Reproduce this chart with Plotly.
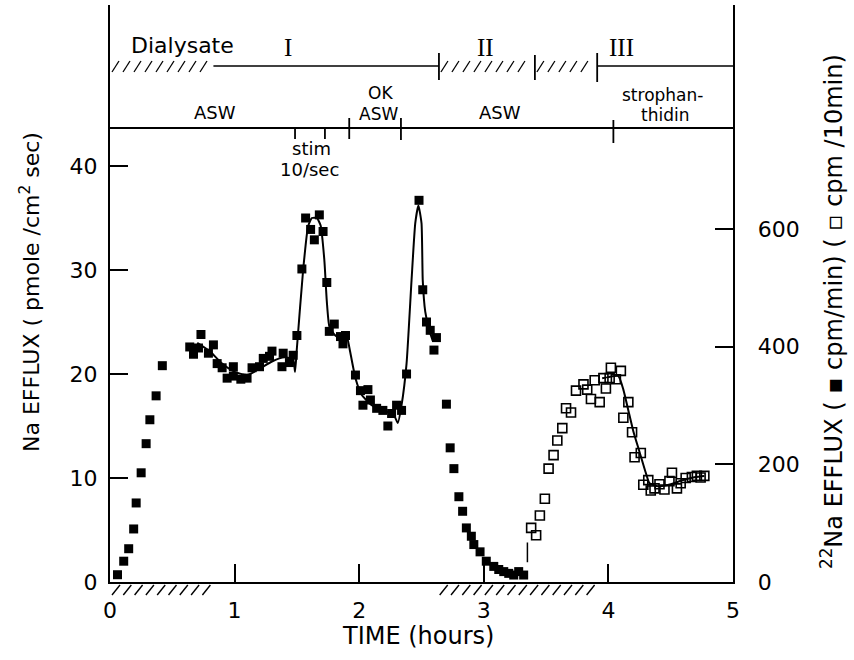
import plotly.graph_objects as go

# ---------------- data (hours, pmole/cm2 sec) ----------------
filled_t = [0.06, 0.11, 0.15, 0.19, 0.21, 0.25, 0.29, 0.32, 0.37, 0.42,
            0.64, 0.67, 0.71, 0.73, 0.79, 0.83, 0.86, 0.90, 0.94, 0.99, 0.99, 1.05, 1.10,
            1.14, 1.20, 1.23, 1.28, 1.30, 1.38, 1.39, 1.44, 1.47, 1.50, 1.54, 1.57, 1.61,
            1.64, 1.68, 1.71, 1.74, 1.76, 1.80, 1.85, 1.87, 1.89, 1.97, 2.01, 2.03, 2.07,
            2.09, 2.14, 2.19, 2.23, 2.26, 2.30, 2.34, 2.38, 2.48, 2.51, 2.54, 2.57, 2.60,
            2.62, 2.70, 2.73, 2.76, 2.80, 2.83, 2.86, 2.90, 2.92, 2.97, 3.02, 3.08, 3.12,
            3.16, 3.20, 3.24, 3.28, 3.32]
filled_y = [0.7, 2.0, 3.2, 5.1, 7.6, 10.5, 13.3, 15.6, 17.9, 20.8,
            22.6, 21.9, 22.5, 23.8, 22.0, 22.8, 21.0, 20.6, 19.6, 20.7, 19.8, 19.5, 19.6,
            20.6, 20.7, 21.5, 21.7, 22.2, 20.7, 22.0, 21.1, 21.8, 23.7, 30.1, 35.0, 33.9,
            32.9, 35.3, 33.7, 28.8, 24.1, 24.8, 23.6, 22.9, 23.7, 19.9, 18.4, 17.0, 18.5,
            17.5, 16.7, 16.5, 15.0, 16.2, 17.0, 16.5, 20.0, 36.7, 28.1, 25.0, 24.2, 22.3,
            23.5, 17.1, 12.9, 10.9, 8.2, 6.8, 5.2, 4.4, 3.6, 2.9, 2.0, 1.5, 1.2,
            1.0, 0.83, 0.67, 1.0, 0.67]

open_t = [3.38, 3.42, 3.45, 3.49, 3.52, 3.56, 3.59, 3.63, 3.66, 3.70, 3.74, 3.80,
          3.83, 3.86, 3.89, 3.93, 3.96, 3.98, 4.01, 4.02, 4.06, 4.10, 4.12, 4.16,
          4.19, 4.21, 4.26, 4.28, 4.32, 4.34, 4.37, 4.41, 4.45, 4.49, 4.51, 4.55,
          4.58, 4.62, 4.67, 4.71, 4.74, 4.77]
open_y = [5.2, 4.5, 6.4, 8.0, 10.9, 12.2, 13.6, 14.8, 16.7, 16.3, 18.4, 19.0,
          18.5, 17.6, 19.4, 17.3, 19.6, 18.6, 19.6, 20.6, 19.5, 20.3, 15.8, 17.3,
          14.4, 12.0, 12.4, 9.35, 9.8, 8.8, 9.0, 9.4, 8.9, 9.7, 10.5, 9.0,
          9.5, 10.0, 10.1, 10.2, 10.05, 10.2]

curve_a_t = [0.70, 0.80, 0.90, 1.00, 1.10, 1.20, 1.30, 1.40, 1.47, 1.485, 1.50, 1.55,
             1.59, 1.62, 1.66, 1.69, 1.72, 1.74, 1.76, 1.80, 1.86, 1.90, 1.92, 1.97,
             2.02, 2.10, 2.20, 2.28, 2.31, 2.34, 2.38, 2.42, 2.45, 2.475, 2.50, 2.51,
             2.53, 2.56, 2.59]
curve_a_y = [23.0, 22.2, 21.0, 20.2, 19.9, 20.5, 21.2, 21.6, 21.4, 20.2, 22.5, 30.0,
             34.2, 35.0, 35.0, 34.3, 31.0, 27.0, 24.6, 23.8, 23.3, 23.6, 22.6, 19.6,
             18.0, 17.0, 16.5, 16.0, 15.3, 17.0, 21.0, 29.0, 34.5, 36.2, 34.5, 29.0,
             26.0, 24.3, 23.2]

curve_b_t = [3.95, 4.00, 4.08, 4.12, 4.16, 4.20, 4.25, 4.30, 4.33, 4.40, 4.50,
             4.60, 4.70, 4.77]
curve_b_y = [19.6, 19.7, 19.8, 18.5, 16.5, 14.5, 12.5, 10.5, 9.5, 9.2, 9.4,
             9.8, 10.1, 10.2]

curve_c_t = [3.35, 3.35]
curve_c_y = [1.9, 3.8]

x_ticks = [0, 1, 2, 3, 4, 5]
left_ticks = [0, 10, 20, 30, 40]
right_ticks = [0, 200, 400, 600]

bottom_hatch = [(0.0, 0.83), (2.63, 3.90)]
dialysate_hatch = [(0.0, 0.83), (2.64, 3.41), (3.41, 3.91)]
dialysate_solid = [(0.83, 2.64), (3.91, 5.0)]
dialysate_marks = [(2.64, 53, 80), (3.41, 55, 80), (3.91, 53, 82)]
solution_marks = [(1.485, 128, 139), (1.725, 128, 139), (1.92, 118, 139),
                  (2.335, 118, 140), (4.04, 120, 143)]

# ---------------- layout geometry (pixels) ----------------
W, H = 854, 660
L, R, T, B = 110, 733, 5, 582
Y_TOP = (B - T) / 10.4          # left axis units at top of plot
Y2_TOP = (B - T) / 0.5883       # right axis units at top
BLACK = "black"
FONT = "DejaVu Sans"


def pxx(px):
    return (px - L) / (R - L)


def pxy(py):
    return (B - py) / (B - T)


def tpx(t):
    return L + t / 5.0 * (R - L)


fig = go.Figure()

fig.add_trace(go.Scatter(x=curve_a_t, y=curve_a_y, mode="lines",
                         line=dict(color=BLACK, width=2, shape="spline", smoothing=0.5),
                         hoverinfo="skip", showlegend=False))
fig.add_trace(go.Scatter(x=curve_b_t, y=curve_b_y, mode="lines",
                         line=dict(color=BLACK, width=2, shape="spline", smoothing=0.5),
                         hoverinfo="skip", showlegend=False))
fig.add_trace(go.Scatter(x=curve_c_t, y=curve_c_y, mode="lines",
                         line=dict(color=BLACK, width=1.5),
                         hoverinfo="skip", showlegend=False))
fig.add_trace(go.Scatter(x=filled_t, y=filled_y, mode="markers",
                         marker=dict(symbol="square", size=9, color=BLACK),
                         showlegend=False))
fig.add_trace(go.Scatter(x=open_t, y=open_y, mode="markers",
                         marker=dict(symbol="square-open", size=9, color=BLACK,
                                     line=dict(width=1.6, color=BLACK)),
                         showlegend=False))
# empty trace to activate right axis
fig.add_trace(go.Scatter(x=[None], y=[None], yaxis="y2", showlegend=False))

shapes = []


def seg(x0, y0, x1, y1, w=1.8):
    shapes.append(dict(type="line", xref="paper", yref="paper",
                       x0=pxx(x0), y0=pxy(y0), x1=pxx(x1), y1=pxy(y1),
                       line=dict(color=BLACK, width=w)))


# hatching below the time axis
for a, b in bottom_hatch:
    x = tpx(a) + 2
    while x + 8 <= tpx(b) + 1:
        seg(x, 595, x + 8, 585, 1.4)
        x += 11.3

# Dialysate row
for a, b in dialysate_hatch:
    x = tpx(a) + 2
    while x + 7 <= tpx(b) + 1:
        seg(x, 72, x + 7, 61, 1.3)
        x += 11.0
for a, b in dialysate_solid:
    seg(tpx(a), 66, tpx(b), 66, 1.6)
for t, y0, y1 in dialysate_marks:
    seg(tpx(t), y0, tpx(t), y1, 1.8)

# solution row
seg(L, 128, R, 128, 1.8)
for t, y0, y1 in solution_marks:
    seg(tpx(t), y0, tpx(t), y1, 1.8)

annotations = []


def txt(s, x, y, size=18, font=FONT, angle=0):
    annotations.append(dict(text=s, xref="paper", yref="paper", x=pxx(x), y=pxy(y),
                            showarrow=False, textangle=angle, xanchor="center",
                            yanchor="middle",
                            font=dict(family=font, size=size, color=BLACK)))


txt("Dialysate", 182, 46, 22)
txt("I", 288, 47, 25, "Liberation Serif")
txt("II", 485, 47, 25, "Liberation Serif")
txt("III", 621, 47, 25, "Liberation Serif")
txt("ASW", 215, 113, 18)
txt("OK", 380, 93, 17)
txt("ASW", 378, 114, 17)
txt("ASW", 500, 113, 18)
txt("strophan-", 662, 95, 17)
txt("thidin", 665, 115, 17)
txt("stim", 311, 148, 18)
txt("10/sec", 309, 169, 18)
txt("TIME (hours)", 418, 636, 24)
txt("Na EFFLUX ( pmole /cm<sup>2</sup> sec)", 30, 292, 22, angle=-90)
txt("<sup>22</sup>Na EFFLUX ( \u25aa cpm/min) ( \u25ab cpm /10min)", 832, 312, 24, angle=-90)

RPAD = "\u00a0\u00a0\u2009"

fig.update_layout(
    width=W, height=H,
    margin=dict(l=L, r=W - R, t=T, b=H - B),
    paper_bgcolor="white", plot_bgcolor="white",
    shapes=shapes, annotations=annotations,
    xaxis=dict(range=[0, 5], tickvals=x_ticks, ticktext=[str(v) for v in x_ticks],
               ticks="inside", ticklen=18, tickwidth=2, tickcolor=BLACK,
               showline=True, linewidth=2, linecolor=BLACK, showgrid=False,
               zeroline=False, ticklabelstandoff=8, automargin=False,
               tickfont=dict(family=FONT, size=22, color=BLACK)),
    yaxis=dict(range=[0, Y_TOP], tickvals=left_ticks, ticks="inside", ticklen=18,
               tickwidth=2, tickcolor=BLACK, showline=True, linewidth=2,
               linecolor=BLACK, showgrid=False, zeroline=False, ticklabelstandoff=6,
               automargin=False,
               tickfont=dict(family=FONT, size=22, color=BLACK)),
    yaxis2=dict(range=[0, Y2_TOP], tickvals=right_ticks,
                ticktext=[RPAD + str(v) for v in right_ticks],
                overlaying="y", side="right",
                ticks="inside", ticklen=18, tickwidth=2, tickcolor=BLACK,
                showline=True, linewidth=2, linecolor=BLACK, showgrid=False,
                zeroline=False, automargin=False,
                tickfont=dict(family=FONT, size=22, color=BLACK)),
)

fig.write_html("out.html", config={"displayModeBar": False},
               post_script="document.body.style.margin='0px';")
